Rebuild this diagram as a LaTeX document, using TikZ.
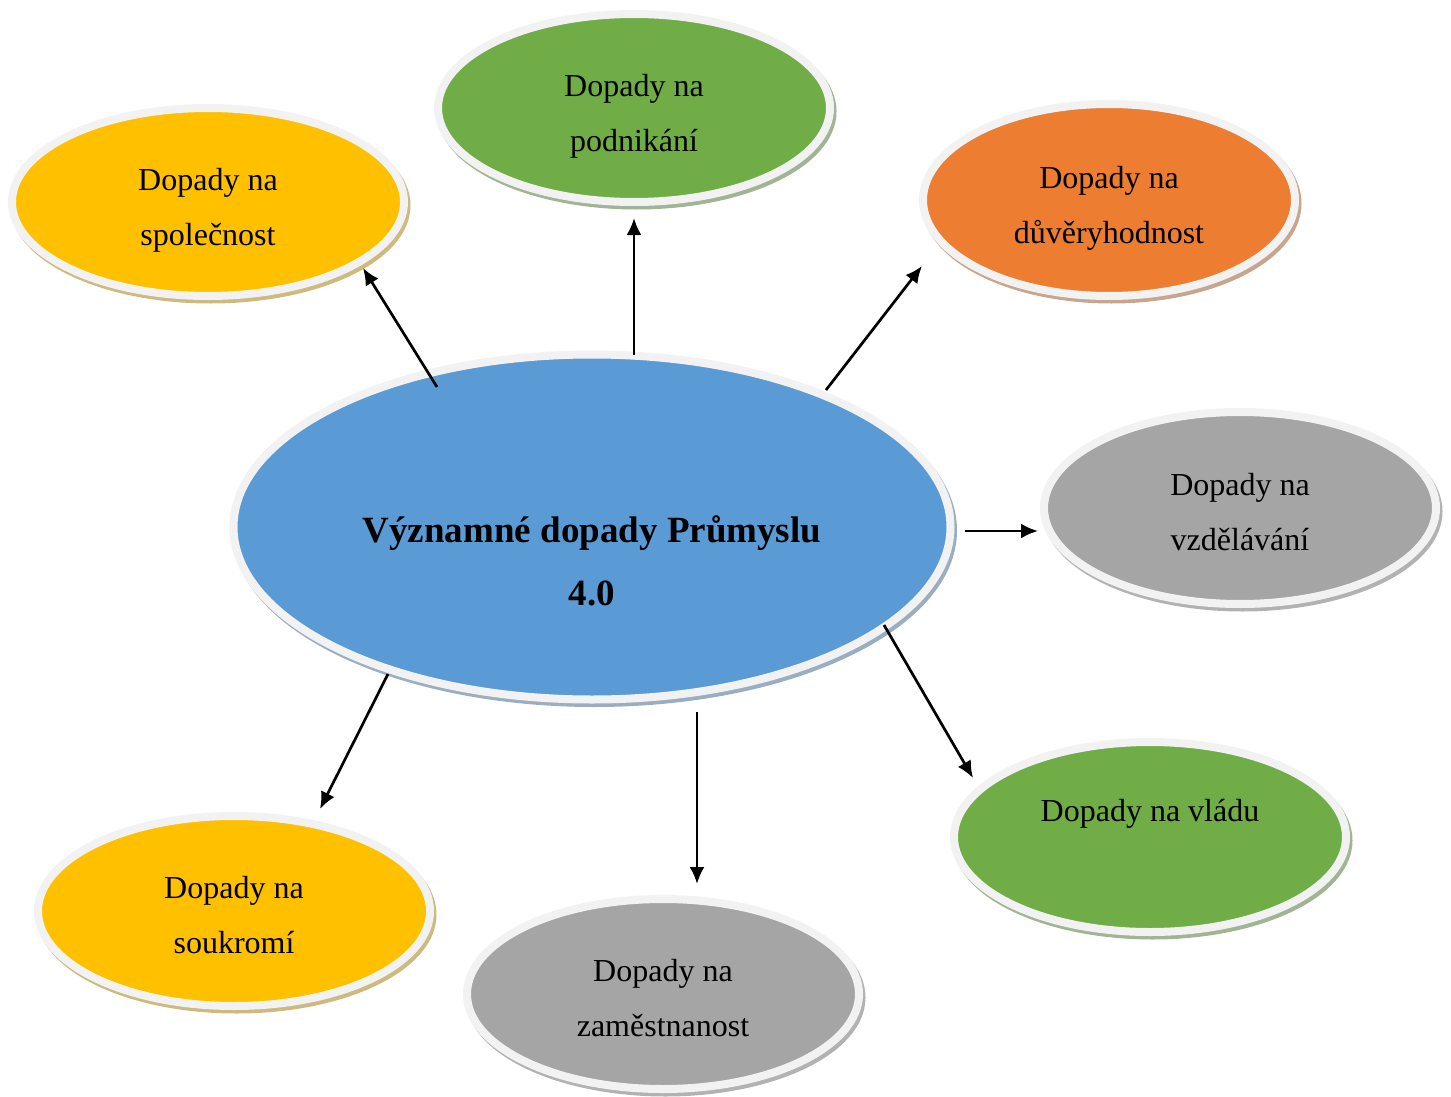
\documentclass[tikz,border=0pt]{standalone}
\usepackage{fontspec}
\setmainfont{Liberation Serif}
\usetikzlibrary{shapes.geometric,arrows.meta,calc}
\definecolor{cyellow}{HTML}{FFC000}
\definecolor{cgreen}{HTML}{70AD47}
\definecolor{corange}{HTML}{ED7D31}
\definecolor{cgray}{HTML}{A5A5A5}
\definecolor{cblue}{HTML}{5B9BD5}
\definecolor{cring}{HTML}{F2F2F2}
\tikzset{
  bubble/.style={ellipse, draw=cring, line width=8pt, fill=#1, inner sep=0pt,
    preaction={draw=#1!45!gray!70, fill=#1!45!gray!70, line width=8pt,
      transform canvas={xshift=2.5pt,yshift=-3.5pt}}},
  txt/.style={align=center, inner sep=0pt, font=\fontsize{32}{55}\selectfont},
  arr/.style={line width=2.7pt, -{Latex[length=17pt,width=15pt]}}
}
\begin{document}
\begin{tikzpicture}[x=1pt,y=-1pt]
\useasboundingbox (0,0) rectangle (1451,1097);
\node[bubble=cblue, minimum width=717pt, minimum height=345pt] (c) at (592,527) {};
\node[txt, font=\fontsize{37}{63}\selectfont\bfseries] (ct) at ($(c)+(0,34)$) {Významné dopady Průmyslu\\4.0};
\node[bubble=cyellow, minimum width=392pt, minimum height=188pt] (spol) at (208,202) {};
\node[txt] (spolt) at ($(spol)+(0,8)$) {Dopady na\\společnost};
\node[bubble=cgreen, minimum width=392pt, minimum height=188pt] (pod) at (634,108) {};
\node[txt] (podt) at ($(pod)+(0,8)$) {Dopady na\\podnikání};
\node[bubble=corange, minimum width=372pt, minimum height=192pt] (duv) at (1109,200) {};
\node[txt] (duvt) at ($(duv)+(0,8)$) {Dopady na\\důvěryhodnost};
\node[bubble=cgray, minimum width=392pt, minimum height=192pt] (vzd) at (1240,508) {};
\node[txt] (vzdt) at ($(vzd)+(0,4)$) {Dopady na\\vzdělávání};
\node[bubble=cgreen, minimum width=392pt, minimum height=190pt] (vla) at (1150,837) {};
\node[txt] (vlat) at ($(vla)+(0,-23)$) {Dopady na vládu};
\node[bubble=cgray, minimum width=392pt, minimum height=190pt] (zam) at (663,994) {};
\node[txt] (zamt) at ($(zam)+(0,4)$) {Dopady na\\zaměstnanost};
\node[bubble=cyellow, minimum width=392pt, minimum height=190pt] (sou) at (234,911) {};
\node[txt] (sout) at ($(sou)+(0,4)$) {Dopady na\\soukromí};
\draw[arr] ($(c)+(-155,-140)$) -- ($(spol)+(155,66)$);
\draw[arr] ($(c)+(42,-172)$) -- ($(pod)+(0,110)$);
\draw[arr] ($(c)+(234,-137)$) -- ($(duv)+(-187,66)$);
\draw[arr] ($(c)+(373,4)$) -- ($(vzd)+(-202,23)$);
\draw[arr] ($(c)+(292,98)$) -- ($(vla)+(-177,-59)$);
\draw[arr] ($(c)+(105,185)$) -- ($(zam)+(34,-110)$);
\draw[arr] ($(c)+(-204,147)$) -- ($(sou)+(86,-102)$);
\end{tikzpicture}
\end{document}
